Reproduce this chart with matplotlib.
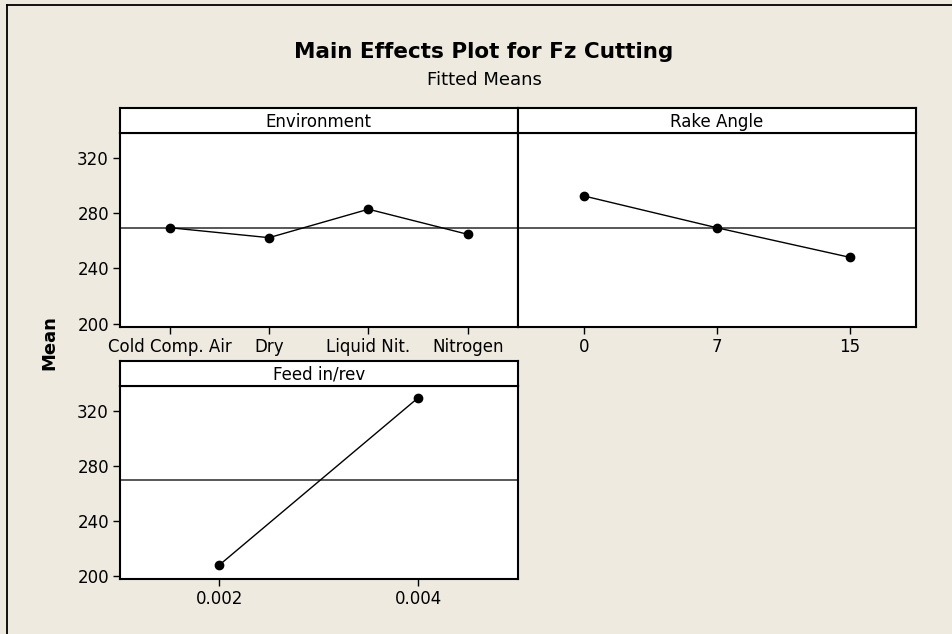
import matplotlib
matplotlib.use("Agg")
import matplotlib.pyplot as plt
from matplotlib.lines import Line2D

# values
env_levels = ["Cold Comp. Air", "Dry", "Liquid Nit.", "Nitrogen"]
env_means = [269.4, 262.2, 282.8, 264.6]

rake_levels = ["0", "7", "15"]
rake_means = [292.4, 269.4, 248.0]

feed_levels = ["0.002", "0.004"]
feed_means = [207.7, 329.4]

grand_mean = 269.3
y_ticks = [200, 240, 280, 320]

W, H = 952, 634
BG = "#eeeae0"


def rect(x0, y0, x1, y1):
    # pixel box (top-left origin) -> figure fraction
    return [x0 / W, 1 - y1 / H, (x1 - x0) / W, (y1 - y0) / H]


def panel(fig, box, title, levels, means, show_y=True):
    x0, y0, x1, y1 = box
    ax = fig.add_axes(rect(x0, y0, x1, y1))
    ax.set_facecolor("white")
    xs = list(range(1, len(levels) + 1))
    ax.axhline(grand_mean, color="#4a4a4a", lw=1.3, zorder=1)
    ax.plot(xs, means, color="black", lw=1.0, marker="o", ms=6, zorder=3)
    ax.set_xlim(0.5, len(levels) + 0.5)
    ax.set_ylim(197.5, 338)
    ax.set_xticks(xs)
    ax.set_xticklabels(levels)
    ax.set_yticks(y_ticks)
    if not show_y:
        ax.tick_params(axis="y", left=False, labelleft=False)
    ax.tick_params(direction="out", length=5, width=1.0, labelsize=12, pad=3)
    for s in ax.spines.values():
        s.set_linewidth(1.5)

    # strip header
    sx = fig.add_axes(rect(x0, y0 - 25, x1, y0))
    sx.set_facecolor("white")
    sx.set_xticks([])
    sx.set_yticks([])
    for s in sx.spines.values():
        s.set_linewidth(1.5)
    sx.text(0.5, 0.45, title, ha="center", va="center", fontsize=12,
            transform=sx.transAxes)
    return ax


def main():
    plt.rcParams["font.family"] = ["DejaVu Sans"]
    fig = plt.figure(figsize=(W / 100, H / 100), dpi=100, facecolor=BG)

    panel(fig, (120, 133, 517.5, 327), "Environment", env_levels, env_means)
    panel(fig, (517.5, 133, 916, 327), "Rake Angle", rake_levels, rake_means,
          show_y=False)
    panel(fig, (120, 386, 517.5, 579), "Feed in/rev", feed_levels, feed_means)

    fig.text(484 / W, 1 - 52 / H, "Main Effects Plot for Fz Cutting",
             ha="center", va="center", fontsize=15.5, fontweight="bold")
    fig.text(484 / W, 1 - 80 / H, "Fitted Means", ha="center", va="center",
             fontsize=13)
    fig.text(49 / W, 1 - 343 / H, "Mean", ha="center", va="center",
             rotation=90, fontsize=13, fontweight="bold")

    # outer frame (only the top and left edges are visible in the original)
    fig.add_artist(Line2D([7 / W, 7 / W], [0, 1 - 5 / H], color="black",
                          lw=1.3, transform=fig.transFigure))
    fig.add_artist(Line2D([7 / W, 1], [1 - 5 / H, 1 - 5 / H], color="black",
                          lw=1.3, transform=fig.transFigure))

    fig.savefig("out.png", dpi=100, facecolor=BG)


if __name__ == "__main__":
    main()
